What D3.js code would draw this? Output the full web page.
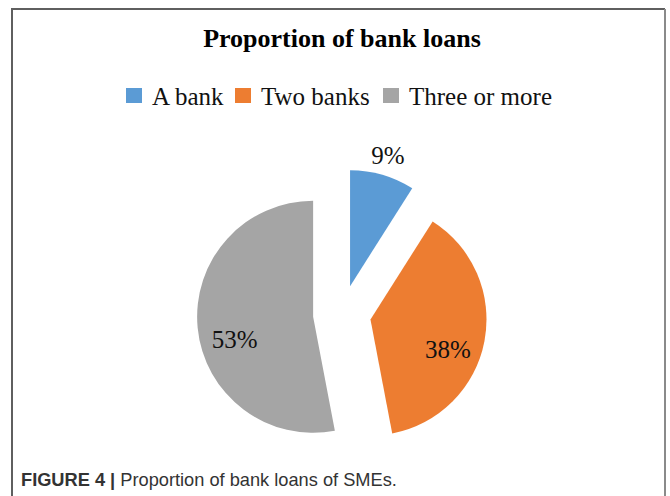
<!DOCTYPE html>
<html>
<head>
<meta charset="utf-8">
<script src="https://cdn.jsdelivr.net/npm/d3@7"></script>
<style>
  html, body { margin: 0; padding: 0; background: #fff; }
  svg { display: block; }
  .serif { font-family: 'Liberation Serif', 'Times New Roman', serif; }
  .sans { font-family: 'Liberation Sans', Arial, sans-serif; }
</style>
</head>
<body>
<svg id="chart" width="670" height="496"></svg>
<script>
// chart data
var categories = ['A bank', 'Two banks', 'Three or more'];
var shares = [9, 38, 53];
var shareLabels = ['9%', '38%', '53%'];
var colors = ['#5b9bd5', '#ed7d31', '#a5a5a5'];

var title = 'Proportion of bank loans';
var captionBold = 'FIGURE 4 | ';
var captionText = 'Proportion of bank loans of SMEs.';

var svg = d3.select('#chart'),
  cx = 342, cy = 314, R = 116,
  explode = 29; //slice pull-out distance

// frame
svg.append('path')
  .attr('d', 'M12,500 L12,9 L665,9')
  .attr('fill', 'none')
  .attr('stroke', '#5f5f5f')
  .attr('stroke-width', 2);
svg.append('path')
  .attr('d', 'M665,9 L665,500')
  .attr('fill', 'none')
  .attr('stroke', '#8a8a8a')
  .attr('stroke-width', 2);

svg.append('text')
  .attr('class', 'serif')
  .attr('x', 342).attr('y', 47)
  .attr('text-anchor', 'middle')
  .attr('font-weight', 'bold')
  .attr('font-size', 26)
  .attr('fill', '#000')
  .text(title);

// legend
var legend = svg.append('g').attr('transform', 'translate(0,104)');
var legendX = [126, 235, 383];
var items = legend.selectAll('g').data(categories).enter().append('g')
  .attr('transform', function (d, i) { return 'translate(' + legendX[i] + ',0)'; });
items.append('rect')
  .attr('x', 0).attr('y', -16).attr('width', 16).attr('height', 15)
  .attr('fill', function (d, i) { return colors[i]; });
items.append('text')
  .attr('class', 'serif')
  .attr('x', 26).attr('y', 1)
  .attr('font-size', 25)
  .attr('fill', '#111')
  .text(function (d) { return d; });

// pie
var pie = d3.pie().sort(null).value(function (d) { return d; });
var arcs = pie(shares);
var arc = d3.arc().innerRadius(0).outerRadius(R);

var g = svg.append('g').attr('transform', 'translate(' + cx + ',' + cy + ')');

function offset(d, dist) {
  var a = (d.startAngle + d.endAngle) / 2;
  return [Math.sin(a) * dist, -Math.cos(a) * dist];
}

g.selectAll('path.slice').data(arcs).enter().append('path')
  .attr('class', 'slice')
  .attr('d', arc)
  .attr('fill', function (d, i) { return colors[i]; })
  .attr('transform', function (d) {
    var o = offset(d, explode);
    return 'translate(' + o[0] + ',' + o[1] + ')';
  });

// labels: small slice outside, others inside
g.selectAll('text.lbl').data(arcs).enter().append('text')
  .attr('class', 'lbl serif')
  .attr('text-anchor', 'middle')
  .attr('font-size', 25)
  .attr('fill', '#111')
  .attr('transform', function (d) {
    var small = (d.endAngle - d.startAngle) < 1;
    var o = offset(d, explode + (small ? R * 1.17 : R * 0.68));
    return 'translate(' + o[0] + ',' + (o[1] + (small ? 8 : 24)) + ')';
  })
  .text(function (d, i) { return shareLabels[i]; });

// caption
var cap = svg.append('text')
  .attr('class', 'sans')
  .attr('transform', 'translate(21,486) scale(0.96,1)')
  .attr('font-size', 19)
  .attr('fill', '#333');
cap.append('tspan').attr('font-weight', 'bold').text(captionBold);
cap.append('tspan').text(captionText);
</script>
</body>
</html>
